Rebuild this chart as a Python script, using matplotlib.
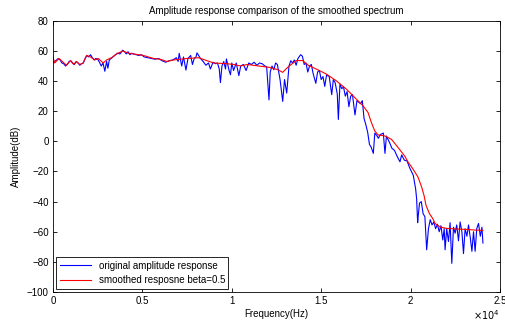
import matplotlib
matplotlib.use("Agg")
import matplotlib.pyplot as plt

plt.rcParams['font.family'] = ['Liberation Sans', 'DejaVu Sans']

# original (noisy) amplitude response
blue_freq = [0, 100, 200, 300, 400, 500, 600, 700, 800, 900, 1000, 1100, 1200, 1300, 1400,
             1500, 1600, 1700, 1800, 1900, 2000, 2100, 2200, 2300, 2400, 2500, 2600, 2700,
             2800, 2900, 3000, 3070, 3150, 3300, 3450, 3600, 3750, 3900, 4000, 4100, 4200,
             4300, 4400, 4500, 4650, 4800, 4950, 5100, 5300, 5500, 5700, 5900, 6100, 6300,
             6500, 6700, 6900, 7000, 7060, 7200, 7300, 7436, 7550, 7700, 7800, 7900, 8000,
             8054, 8250, 8400, 8550, 8700, 8803, 8950, 9100, 9200, 9300, 9365, 9450, 9550,
             9650, 9700, 9850, 9927, 10000, 10100, 10250, 10395, 10500, 10650, 10800, 10950,
             11100, 11250, 11400, 11550, 11700, 11850, 11950, 12081, 12150, 12250, 12350,
             12450, 12550, 12700, 12848, 12950, 13072, 13200, 13300, 13400, 13500, 13600,
             13700, 13850, 13950, 14050, 14150, 14250, 14350, 14450, 14550, 14700, 14800,
             14900, 15000, 15100, 15200, 15300, 15450, 15590, 15680, 15780, 15900, 15960,
             16050, 16150, 16250, 16350, 16450, 16550, 16650, 16750, 16890, 17000, 17100,
             17200, 17300, 17400, 17500, 17600, 17700, 17800, 17916, 18000, 18100, 18200,
             18300, 18400, 18475, 18568, 18650, 18750, 18850, 18950, 19100, 19250, 19407,
             19500, 19650, 19800, 19963, 20150, 20282, 20338, 20396, 20432, 20500, 20600,
             20700, 20800, 20900, 21000, 21100, 21200, 21300, 21400, 21500, 21600, 21700,
             21800, 21880, 21930, 22020, 22120, 22210, 22305, 22400, 22490, 22580, 22680,
             22770, 22870, 22960, 23050, 23150, 23240, 23340, 23430, 23520, 23610, 23700,
             23800, 23900, 23990, 24047]
blue_db = [52.5, 53, 54, 55, 54, 52, 51.5, 50, 51, 53, 53.5, 52, 51, 53, 52,
           50.5, 51.5, 52, 55, 57, 56, 57.5, 55.5, 54, 55, 54.5, 52.5, 50,
           52, 46.5, 53, 48.5, 54, 55.5, 57, 58.5, 58, 60.5, 59.5, 58, 59.5,
           57.5, 58.5, 58, 57.5, 57, 57.5, 56, 55.5, 55, 54.5, 55, 53.5, 52.5,
           53.5, 54, 55.5, 53, 58.4, 50, 56, 47.3, 55, 57, 51, 55, 56,
           58.7, 55, 53, 50.5, 52, 48, 52.5, 51.5, 52, 48, 39, 50, 53,
           48, 54.7, 47, 44.2, 52, 47, 52, 43.6, 50, 51, 47, 52,
           51, 52.5, 50.5, 52, 51.5, 50, 49.5, 27.5, 46, 50, 47.5,
           52, 51, 41, 26.5, 41, 32, 50, 53.5, 52, 54, 50.5,
           55, 57.5, 56.5, 51, 52, 46, 50, 51, 45, 38.5, 46,
           47, 41, 43, 36.5, 44, 43, 31, 41, 39, 31.5, 14.5,
           38, 35, 36, 30, 33, 23, 30, 31, 17.5, 27, 26,
           25, 27, 15, 11, 6, -2, -4, -8, 5.5, 4, 2,
           4.5, 5, 5.5, -8, 3.5, 1, -1.5, -4.5, -6, -10, -13.6,
           -9, -12.5, -13, -18, -22.5, -31.5, -38, -54, -49, -41, -40,
           -48, -50, -72, -58, -52, -55.5, -53.5, -58, -55, -60, -56,
           -65.5, -58, -72, -58, -66.5, -54, -81, -57, -61, -55.5, -66,
           -53.5, -60, -74.5, -58, -63, -55.5, -64, -73, -60, -73, -58,
           -54.5, -63, -57, -67.5]

# smoothed response (beta = 0.5)
red_freq = [0, 94, 337, 749, 974, 1161, 1311, 1498, 1686, 1873, 2098, 2341, 2529, 2810,
            2997, 3278, 3559, 3896, 4214, 4495, 5057, 5619, 5994, 6368, 6743, 7492, 8148,
            8616, 8990, 9740, 10114, 10489, 10863, 11182, 12097, 12565, 12846, 13127,
            13595, 13970, 14251, 14719, 15281, 15843, 16405, 16967, 17341, 17622, 17810,
            17997, 18184, 18559, 18933, 19308, 19683, 19870, 20057, 20414, 20619, 20750,
            20862, 21050, 21237, 21368, 21649, 22024, 22586, 23148, 23616, 24047]
red_db = [56, 52, 55, 50.5, 53.5, 51, 53, 51, 52, 57, 56, 54, 55, 52,
          54, 55.5, 58, 60, 58.5, 58, 57, 55, 54.5, 53, 54, 55, 55.5,
          53.5, 52, 51.5, 51, 50, 51, 50.5, 49.1, 47.6, 45.8, 49.1,
          53.6, 53.6, 50.7, 48, 44.7, 40.2, 34.7, 28, 23.6, 19.1, 12.4,
          6.9, 4.2, 3.6, 1.3, -4.2, -10, -14, -17, -23.7, -30.3, -35.8,
          -42.4, -47.9, -51.2, -54.5, -56.9, -57.8, -58.2, -58.5, -58.9, -59.1]

fig = plt.figure(figsize=(5.06, 3.24), dpi=100)
ax = fig.add_axes([0.1047, 0.0988, 0.8834, 0.837])

ax.plot(blue_freq, blue_db, color='blue', linewidth=0.8, label='original amplitude response')
ax.plot(red_freq, red_db, color='red', linewidth=0.8, label='smoothed resposne beta=0.5')

ax.set_xlim(0, 25000)
ax.set_ylim(-100, 80)
ax.set_xticks([0, 5000, 10000, 15000, 20000, 25000])
ax.set_xticklabels(['0', '0.5', '1', '1.5', '2', '2.5'])
ax.set_yticks(range(-100, 81, 20))
ax.tick_params(direction='in', top=True, right=True, labelsize=7, length=3, width=0.6, pad=3)
for s in ax.spines.values():
    s.set_linewidth(0.6)

# exponent label under the right end of the x axis
ax.text(1.0, -0.058, r'$\times10^{4}$', transform=ax.transAxes, fontsize=7,
        ha='right', va='top')
ax.set_title('Amplitude response comparison of the smoothed spectrum', fontsize=7, pad=5)
ax.set_xlabel('Frequency(Hz)', fontsize=7, labelpad=2)
ax.set_ylabel('Amplitude(dB)', fontsize=7, labelpad=4)

leg = ax.legend(loc='lower left', fontsize=7, fancybox=False, framealpha=1,
                edgecolor='black', handlelength=3.2, borderaxespad=0.35,
                borderpad=0.35, labelspacing=0.45)
leg.get_frame().set_linewidth(0.6)

fig.savefig('out.png', dpi=100)
